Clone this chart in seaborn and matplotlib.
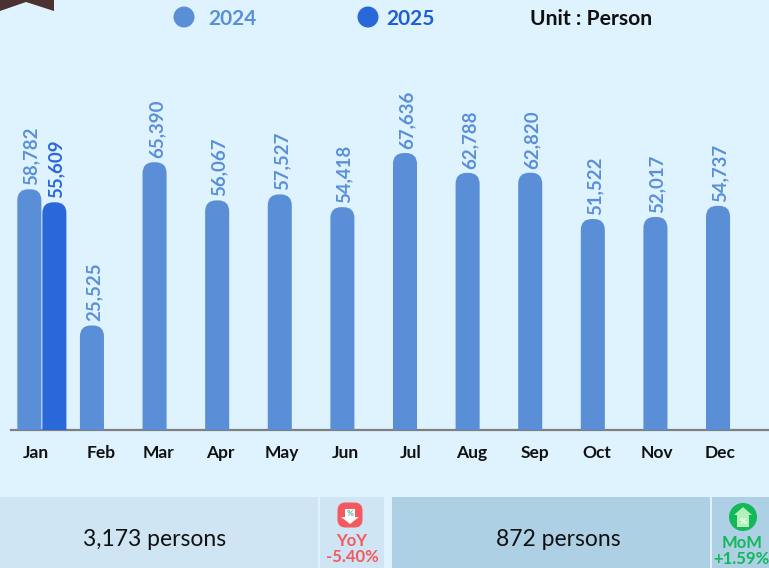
import pandas as pd
import matplotlib.pyplot as plt
import seaborn as sns
from matplotlib.patches import PathPatch, Polygon, Rectangle, FancyBboxPatch, Circle
from matplotlib.path import Path

# data
months = ['Jan', 'Feb', 'Mar', 'Apr', 'May', 'Jun', 'Jul', 'Aug', 'Sep', 'Oct', 'Nov', 'Dec']
values_2024 = [58782, 25525, 65390, 56067, 57527, 54418, 67636, 62788, 62820, 51522, 52017, 54737]
months_2025 = ['Jan']
values_2025 = [55609]
year_names = ['2024', '2025']

# tick labels do not sit exactly under the groups in the original
tick_pos = [-0.09, 0.95, 1.86, 2.85, 3.83, 4.85, 5.89, 6.86, 7.87, 8.87, 9.83, 10.84]

BG = '#dff3ff'
C24 = '#5a8fd8'
C25 = '#2a68da'
W, H = 769, 568

df = pd.concat([
    pd.DataFrame({'month': months, 'value': values_2024, 'year': '2024'}),
    pd.DataFrame({'month': months_2025, 'value': values_2025, 'year': '2025'}),
])

sns.set_theme(style='white')
plt.rcParams['font.family'] = ['Lato', 'DejaVu Sans']

fig = plt.figure(figsize=(W / 100, H / 100), dpi=100, facecolor=BG)

# main axes: from the top of the figure to the baseline at y=430
ax = fig.add_axes([11 / W, 1 - 430 / H, (W - 11) / W, 430 / H])
ax.set_facecolor(BG)
sns.barplot(data=df, x='month', y='value', hue='year', order=months, hue_order=year_names,
            palette={'2024': C24, '2025': C25}, gap=0.04, legend=False, ax=ax)
ax.set_xlim(-0.493, 11.614)
ax.set_ylim(0, 105000)
ax.set_xlabel('')
ax.set_ylabel('')
ax.set_yticks([])
ax.set_xticks(tick_pos)
ax.set_xticklabels(months, fontsize=12.5, fontweight='bold', color='#111111')
ax.tick_params(axis='x', length=0, pad=11)
for s in ['top', 'left', 'right']:
    ax.spines[s].set_visible(False)
ax.spines['bottom'].set_color('#7f7f7f')
ax.spines['bottom'].set_linewidth(1.6)
fig.canvas.draw()

# round the bar tops
r_px = 11
px_x = abs(ax.transData.inverted().transform((1, 0))[0] - ax.transData.inverted().transform((0, 0))[0])
px_y = abs(ax.transData.inverted().transform((0, 1))[1] - ax.transData.inverted().transform((0, 0))[1])
for cont, col in zip(ax.containers, [C24, C25]):
    for bar in cont:
        x0, w, h = bar.get_x(), bar.get_width(), bar.get_height()
        if not h == h:
            continue
        rx = min(r_px * px_x, w / 2)
        ry = r_px * px_y
        verts = [(x0, 0), (x0, h - ry), (x0, h), (x0 + rx, h), (x0 + w - rx, h),
                 (x0 + w, h), (x0 + w, h - ry), (x0 + w, 0), (x0, 0)]
        codes = [Path.MOVETO, Path.LINETO, Path.CURVE3, Path.CURVE3, Path.LINETO,
                 Path.CURVE3, Path.CURVE3, Path.LINETO, Path.CLOSEPOLY]
        ax.add_patch(PathPatch(Path(verts, codes), facecolor=col, edgecolor='none', zorder=3))
        bar.set_visible(False)

for cont, col, vals in zip(ax.containers, [C24, C25], [values_2024, values_2025]):
    labels = ax.bar_label(cont, labels=[f'{v:,}' for v in vals], rotation=90, padding=3, fontsize=13.4,
                          color=col, fontweight='bold', zorder=4)
    for t in labels:
        t.xyann = (1.4, t.xyann[1])

# overlay in pixel coordinates for legend, panels and icons
ov = fig.add_axes([0, 0, 1, 1], facecolor='none')
ov.set_xlim(0, W)
ov.set_ylim(H, 0)
ov.axis('off')

ov.add_patch(Polygon([(0, 0), (54, 0), (54, 11), (26, 2), (0, 11)], facecolor='#4a3232', edgecolor='none'))

# legend
ov.add_patch(Circle((184, 17), 10.5, facecolor=C24, edgecolor='none'))
ov.text(208, 19, year_names[0], fontsize=15, fontweight='bold', color=C24, va='center', ha='left')
ov.add_patch(Circle((368, 17), 10.5, facecolor=C25, edgecolor='none'))
ov.text(386, 19, year_names[1], fontsize=15, fontweight='bold', color='#1f5fd6', va='center', ha='left')
ov.text(530, 19, 'Unit : Person', fontsize=15.2, fontweight='bold', color='#111111', va='center', ha='left')

# bottom panels
for x0, x1, col in [(0, 318, '#cfe5f3'), (320, 384, '#cfe5f3'), (392, 710, '#aed0e5'), (712, W, '#aed0e5')]:
    ov.add_patch(Rectangle((x0, 497), x1 - x0, H - 497, facecolor=col, edgecolor='none'))
ov.text(155, 540, '3,173 persons', fontsize=16.5, color='#111111', ha='center', va='center')
ov.text(558, 540, '872 persons', fontsize=16.5, color='#111111', ha='center', va='center')

# YoY icon
RED = '#f4595f'
ov.add_patch(FancyBboxPatch((343.5, 508.5), 13, 13, boxstyle='round,pad=6,rounding_size=8', facecolor=RED, edgecolor='none'))
ov.add_patch(Polygon([(345, 509), (355, 509), (355, 517), (359, 517), (350, 524), (341, 517), (345, 517)],
                     facecolor='white', edgecolor='none'))
ov.text(350, 514, '%', fontsize=6, color='#4fb39a', ha='center', va='center', fontweight='bold')
ov.text(352, 541, 'YoY', fontsize=12, fontweight='bold', color=RED, ha='center', va='center')
ov.text(352, 557, '-5.40%', fontsize=12, fontweight='bold', color=RED, ha='center', va='center')

# MoM icon
GREEN = '#12b85a'
ov.add_patch(Circle((743, 517), 14, facecolor=GREEN, edgecolor='none'))
ov.add_patch(Polygon([(743, 507), (752, 515), (749, 515), (749, 527), (737, 527), (737, 515), (734, 515)],
                     facecolor='#b5f0b8', edgecolor='none'))
ov.text(743, 521, '%', fontsize=6, color='white', ha='center', va='center', fontweight='bold')
ov.text(742, 543, 'MoM', fontsize=12, fontweight='bold', color=GREEN, ha='center', va='center')
ov.text(741, 559, '+1.59%', fontsize=12, fontweight='bold', color=GREEN, ha='center', va='center')

fig.savefig('out.png', dpi=100, facecolor=BG)
